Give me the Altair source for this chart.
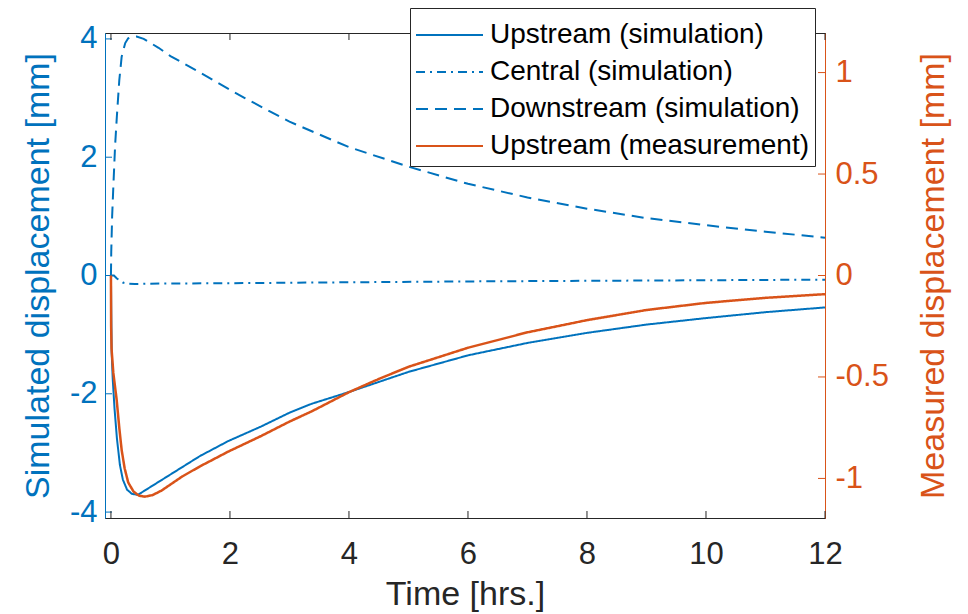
import altair as alt
import pandas as pd

BLUE = "#0072BD"
ORANGE = "#D95319"
DARK = "#262626"
FONT = "Liberation Sans"

series_names = [
    "Upstream (simulation)",
    "Central (simulation)",
    "Downstream (simulation)",
    "Upstream (measurement)",
]

# Upstream (simulation) - left axis [mm]
up_t = [0, 0.005, 0.012, 0.03, 0.06, 0.1, 0.15, 0.2, 0.27, 0.35, 0.45, 0.8, 1.5,
        1.97, 2.53, 3.0, 3.37, 4.0, 5.0, 6.0, 7.0, 8.0, 9.0, 10.0, 11.0, 12.0]
up_v = [0, -0.6, -1.3, -1.75, -2.25, -2.75, -3.2, -3.45, -3.62, -3.69, -3.71, -3.49, -3.05,
        -2.8, -2.55, -2.32, -2.17, -1.97, -1.63, -1.35, -1.14, -0.97, -0.83, -0.72, -0.62, -0.54]

# Central (simulation) - left axis [mm]
ce_t = [0, 0.05, 0.1, 0.2, 0.3, 0.4, 0.6, 1.0, 2.0, 4.0, 6.0, 8.0, 10.0, 12.0]
ce_v = [0, 0.0, -0.05, -0.12, -0.14, -0.145, -0.14, -0.135, -0.13, -0.115, -0.1, -0.09, -0.08, -0.07]

# Downstream (simulation) - left axis [mm]
dn_t = [0, 0.005, 0.02, 0.04, 0.07, 0.1, 0.14, 0.18, 0.24, 0.29, 0.35, 0.43, 0.55, 0.8, 1.0,
        1.41, 2.0, 2.25, 3.0, 4.0, 5.0, 6.0, 7.0, 8.0, 9.0, 10.0, 11.0, 12.0]
dn_v = [0, 0.4, 1.0, 1.5, 2.2, 2.7, 3.3, 3.7, 3.93, 4.01, 4.04, 4.04, 4.0, 3.85, 3.71,
        3.48, 3.14, 3.0, 2.6, 2.17, 1.84, 1.55, 1.32, 1.13, 0.97, 0.85, 0.74, 0.64]

# Upstream (measurement) - right axis [mm]
ms_t = [0, 0.003, 0.01, 0.04, 0.095, 0.14, 0.18, 0.23, 0.29, 0.38, 0.47, 0.57, 0.7, 0.85, 1.0,
        1.2, 1.5, 1.97, 2.53, 3.0, 3.37, 4.0, 4.5, 5.0, 6.0, 7.0, 8.0, 9.0, 10.0, 11.0, 12.0]
ms_v = [0, -0.25, -0.36, -0.48, -0.61, -0.75, -0.86, -0.95, -1.02, -1.065, -1.085, -1.09, -1.082,
        -1.06, -1.03, -0.99, -0.94, -0.868, -0.79, -0.72, -0.67, -0.575, -0.51, -0.45, -0.356,
        -0.28, -0.22, -0.17, -0.135, -0.11, -0.092]

x_ticks = [0, 2, 4, 6, 8, 10, 12]
left_ticks = [-4, -2, 0, 2, 4]
right_ticks = [-1, -0.5, 0, 0.5, 1]

W, H = 720, 485
TICK = 7

sim_df = pd.concat([
    pd.DataFrame({"t": up_t, "v": up_v, "series": series_names[0]}),
    pd.DataFrame({"t": ce_t, "v": ce_v, "series": series_names[1]}),
    pd.DataFrame({"t": dn_t, "v": dn_v, "series": series_names[2]}),
], ignore_index=True)
ms_df = pd.DataFrame({"t": ms_t, "m": ms_v, "series": series_names[3]})

color_scale = alt.Scale(domain=series_names, range=[BLUE, BLUE, BLUE, ORANGE])
dash_scale = alt.Scale(domain=series_names, range=[[1, 0], [9, 5, 2, 5], [12, 7], [1, 0]])

x_enc = alt.X(
    "t:Q",
    scale=alt.Scale(domain=[-0.1, 12], nice=False, zero=False),
    axis=alt.Axis(
        values=x_ticks, format="d", title="Time [hrs.]", grid=False, ticks=False,
        domainColor=DARK, labelColor=DARK, titleColor=DARK,
        labelFont=FONT, titleFont=FONT, labelFontSize=31, titleFontSize=34,
        titleFontWeight="normal", labelPadding=21, titlePadding=8,
        labelFlush=False,
    ),
)

neg_label = "datum.value < 0 ? '-' + format(-datum.value, '~g') : format(datum.value, '~g')"

y_left_scale = alt.Scale(domain=[-4.1, 4.1], nice=False, zero=False)
y_right_scale = alt.Scale(domain=[-1.195, 1.195], nice=False, zero=False)

sim_lines = alt.Chart(sim_df).mark_line(strokeWidth=2).encode(
    x=x_enc,
    y=alt.Y(
        "v:Q", scale=y_left_scale,
        axis=alt.Axis(
            orient="left", values=left_ticks, title="Simulated displacement [mm]",
            grid=False, ticks=False, domainColor=BLUE, labelColor=BLUE, titleColor=BLUE,
            labelFont=FONT, titleFont=FONT, labelFontSize=31, titleFontSize=34,
            titleFontWeight="normal", labelPadding=8, titlePadding=14,
            labelExpr=neg_label, labelFlush=False,
        ),
    ),
    color=alt.Color("series:N", scale=color_scale, title=None),
    strokeDash=alt.StrokeDash("series:N", scale=dash_scale, title=None),
)

left_tick_df = pd.DataFrame({"v": left_ticks})
left_tick_marks = alt.Chart(left_tick_df).mark_rule(color=BLUE, strokeWidth=1).encode(
    y=alt.Y("v:Q", scale=y_left_scale),
    x=alt.value(0), x2=alt.value(TICK),
)

xtick_df = pd.DataFrame({"t": x_ticks})
bottom_tick_marks = alt.Chart(xtick_df).mark_rule(color=DARK, strokeWidth=1).encode(
    x=alt.X("t:Q"), y=alt.value(H - TICK), y2=alt.value(H),
)
top_tick_marks = alt.Chart(xtick_df).mark_rule(color=DARK, strokeWidth=1).encode(
    x=alt.X("t:Q"), y=alt.value(0), y2=alt.value(TICK),
)

left_layer = alt.layer(left_tick_marks, bottom_tick_marks, top_tick_marks, sim_lines)

ms_line = alt.Chart(ms_df).mark_line(strokeWidth=2.5).encode(
    x=x_enc,
    y=alt.Y(
        "m:Q", scale=y_right_scale,
        axis=alt.Axis(
            orient="right", values=right_ticks, title="Measured displacement [mm]",
            grid=False, ticks=False, domainColor=ORANGE, labelColor=ORANGE, titleColor=ORANGE,
            labelFont=FONT, titleFont=FONT, labelFontSize=31, titleFontSize=34,
            titleFontWeight="normal", labelPadding=10, titlePadding=28, titleAngle=270,
            titleBaseline="top", labelExpr=neg_label, labelFlush=False,
        ),
    ),
    color=alt.Color("series:N", scale=color_scale, title=None),
    strokeDash=alt.StrokeDash("series:N", scale=dash_scale, title=None),
)

right_tick_df = pd.DataFrame({"m": right_ticks})
right_tick_marks = alt.Chart(right_tick_df).mark_rule(color=ORANGE, strokeWidth=1).encode(
    y=alt.Y("m:Q", scale=y_right_scale),
    x=alt.value(W - TICK), x2=alt.value(W),
)

right_layer = alt.layer(right_tick_marks, ms_line)

chart = (
    alt.layer(left_layer, right_layer)
    .resolve_scale(y="independent")
    .properties(
        width=W, height=H,
        autosize=alt.AutoSizeParams(type="none"),
        padding={"left": 97, "top": 25, "right": 130, "bottom": 95},
    )
    .configure_view(stroke=DARK, strokeWidth=1)
    .configure_axis(domainWidth=1)
    .configure_legend(
        orient="none", legendX=305, legendY=-25,
        strokeColor=DARK, fillColor="white", strokeWidth=1, cornerRadius=0,
        padding=6, rowPadding=2, labelOffset=32, labelLimit=500,
        labelFont=FONT, labelFontSize=28, labelColor="black",
        symbolType="M-1.05,0L2.3,0", symbolSize=1600, symbolStrokeWidth=2,
    )
)

chart.save("out.html", embed_options={"renderer": "svg", "actions": False})
